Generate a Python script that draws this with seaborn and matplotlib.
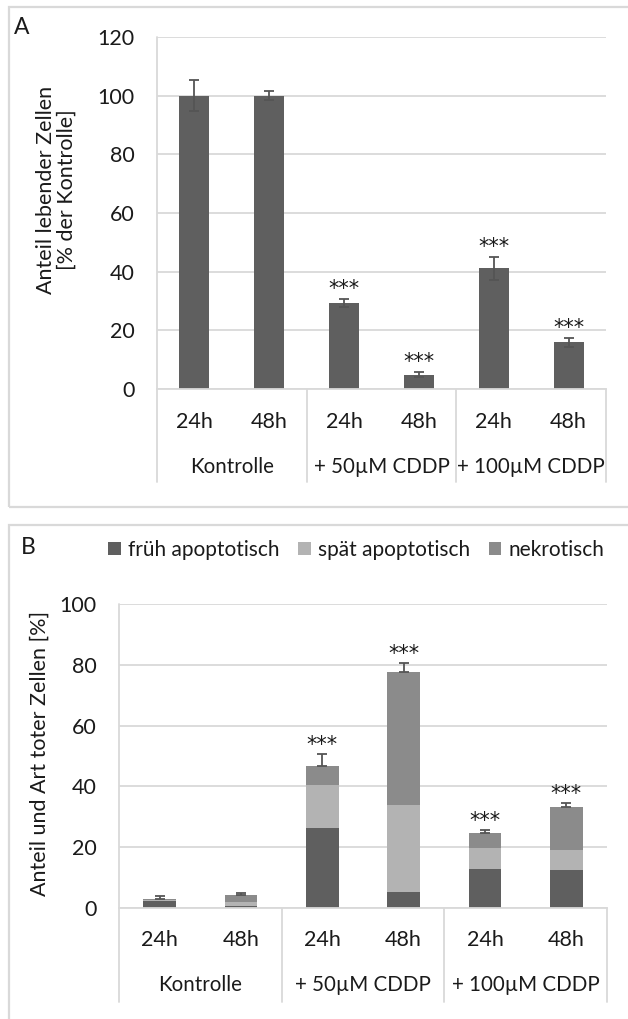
import matplotlib
matplotlib.use("Agg")
import matplotlib.pyplot as plt
import matplotlib.transforms as mtrans
from matplotlib.patches import Rectangle, Patch
import numpy as np
import pandas as pd
import seaborn as sns

# ---- data -------------------------------------------------------------
groups = ["Kontrolle", "+ 50µM CDDP", "+ 100µM CDDP"]
times = ["24h", "48h"]
conditions = [f"{g} {t}" for g in groups for t in times]

# Panel A: living cells relative to control
live_mean = [100.0, 100.0, 29.3, 4.9, 41.2, 15.9]
live_err = [5.2, 1.6, 1.3, 0.9, 3.9, 1.5]
live_sig = ["", "", "***", "***", "***", "***"]

# Panel B: fraction and type of dead cells
early_apoptotic = [2.3, 0.6, 26.4, 5.3, 12.7, 12.4]
late_apoptotic = [0.3, 1.3, 14.1, 28.6, 7.1, 6.7]
necrotic = [0.4, 2.4, 6.3, 43.6, 5.0, 14.2]
dead_err = [0.9, 0.5, 3.9, 3.2, 0.9, 1.2]
dead_sig = ["", "", "***", "***", "***", "***"]

series_labels = ["früh apoptotisch", "spät apoptotisch", "nekrotisch"]
series_colors = ["#5f5f5f", "#b3b3b3", "#8b8b8b"]

# ---- style ------------------------------------------------------------
sns.set_style("white")
plt.rcParams["font.family"] = ["Lato", "DejaVu Sans"]
FS = 15.5
FS_GROUP = 14.8
GRID = "#d9d9d9"
TXT = "#1a1a1a"

W, H = 628, 1019
fig = plt.figure(figsize=(W / 100, H / 100), dpi=100)


def px_axes(left, top, right, bottom):
    return fig.add_axes([left / W, 1 - bottom / H, (right - left) / W, (bottom - top) / H])


def panel_frame(left, top, right, bottom):
    fig.add_artist(Rectangle((left / W, 1 - bottom / H), (right - left) / W, (bottom - top) / H,
                             transform=fig.transFigure, fill=False, ec=GRID, lw=1.6, clip_on=False))


def style_axis(ax, ymax, step, below_px, tick_px, group_px):
    ax.set_xlim(-0.5, len(conditions) - 0.5)
    ax.set_ylim(0, ymax)
    ax.set_yticks(np.arange(0, ymax + 1, step))
    ax.yaxis.grid(True, color=GRID, lw=1.3)
    ax.set_axisbelow(True)
    for s in ["top", "right", "left"]:
        ax.spines[s].set_visible(False)
    ax.spines["bottom"].set_color(GRID)
    ax.spines["bottom"].set_linewidth(1.3)
    ax.set_xticks([])
    ax.set_xlabel("")
    ax.set_ylabel("")
    ax.tick_params(axis="y", length=0, pad=16, labelsize=FS, labelcolor=TXT)
    # category box lines: full height on the left, group separators below the axis
    trans = mtrans.blended_transform_factory(ax.transData, ax.transAxes)
    ax_h = ax.get_window_extent().height
    low = -below_px / ax_h
    ax.plot([-0.5, -0.5], [low, 1], transform=trans, color=GRID, lw=1.3, clip_on=False)
    for xb in [1.5, 3.5, 5.5]:
        ax.plot([xb, xb], [low, 0], transform=trans, color=GRID, lw=1.3, clip_on=False)
    # two-level category labels
    for i, c in enumerate(conditions):
        ax.annotate(times[i % 2], xy=(i, 0), xycoords=trans, xytext=(0, -tick_px),
                    textcoords="offset pixels", ha="center", va="center", fontsize=FS, color=TXT)
    for g, name in enumerate(groups):
        ax.annotate(name, xy=(2 * g + 0.5, 0), xycoords=trans, xytext=(0, -group_px),
                    textcoords="offset pixels", ha="center", va="center", fontsize=FS_GROUP,
                    color=TXT)


def add_stars(ax, tops, labels, off=12):
    for i, (t, s) in enumerate(zip(tops, labels)):
        if s:
            ax.annotate(s, xy=(i, t), xytext=(0, off), textcoords="offset pixels",
                        ha="center", va="center", fontsize=15, color=TXT,
                        family="DejaVu Sans")


bar_kw = dict(saturation=1, width=0.4, errorbar=None, linewidth=0, edgecolor="none", zorder=2)

# ---- panel A ------------------------------------------------------------
panel_frame(9, 7, 660, 507)
axA = px_axes(157, 37, 606, 389)
dfA = pd.DataFrame({"condition": conditions, "value": live_mean})
sns.barplot(data=dfA, x="condition", y="value", order=conditions, color="#5f5f5f",
            ax=axA, **bar_kw)
axA.errorbar(range(len(conditions)), live_mean, yerr=live_err, fmt="none",
             ecolor="#555555", elinewidth=1.3, capsize=3.5, capthick=1.3, zorder=3)
style_axis(axA, 120, 20, below_px=93, tick_px=33, group_px=78)
add_stars(axA, np.array(live_mean) + np.array(live_err), live_sig, off=10)
fig.text(56 / W, 1 - 190 / H, "Anteil lebender Zellen\n[% der Kontrolle]", rotation=90,
         ha="center", va="center", multialignment="center", fontsize=FS, color=TXT,
         linespacing=1.05)
fig.text(22 / W, 1 - 28 / H, "A", ha="center", va="center", fontsize=FS + 1, color=TXT)

# ---- panel B ------------------------------------------------------------
panel_frame(9, 525, 660, 1040)
axB = px_axes(119, 604, 607, 908)
dfB = pd.DataFrame({"condition": conditions, "early": early_apoptotic,
                    "late": late_apoptotic, "necrotic": necrotic})
dfB["lvl1"] = dfB["early"]
dfB["lvl2"] = dfB["early"] + dfB["late"]
dfB["lvl3"] = dfB["lvl2"] + dfB["necrotic"]
# stacked bars: draw the cumulative totals from top to bottom layer
for col, color in zip(["lvl3", "lvl2", "lvl1"], series_colors[::-1]):
    sns.barplot(data=dfB, x="condition", y=col, order=conditions, color=color,
                ax=axB, **bar_kw)
totals = dfB["lvl3"].to_numpy()
axB.errorbar(range(len(conditions)), totals, yerr=[np.zeros(len(totals)), dead_err],
             fmt="none", ecolor="#555555", elinewidth=1.3, capsize=3.5, capthick=1.3, zorder=3)
style_axis(axB, 100, 20, below_px=94, tick_px=32, group_px=77)
add_stars(axB, totals + np.array(dead_err), dead_sig, off=9)
fig.text(40 / W, 1 - 753 / H, "Anteil und Art toter Zellen [%]", rotation=90,
         ha="center", va="center", fontsize=FS, color=TXT)
fig.text(28 / W, 1 - 547 / H, "B", ha="center", va="center", fontsize=FS + 1, color=TXT)

handles = [Patch(facecolor=c, edgecolor="none") for c in series_colors]
fig.legend(handles, series_labels, loc="center left", bbox_to_anchor=(108 / W, 1 - 550 / H),
           ncol=3, frameon=False, fontsize=15, handlelength=0.6, handleheight=0.6,
           handletextpad=0.35, columnspacing=0.9, borderaxespad=0, borderpad=0,
           labelcolor=TXT)

fig.savefig("out.png", dpi=100)
